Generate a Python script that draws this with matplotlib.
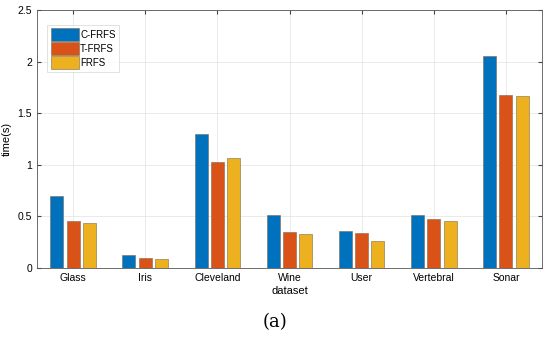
import numpy as np
import matplotlib
matplotlib.use("Agg")
import matplotlib.pyplot as plt

datasets = ["Glass", "Iris", "Cleveland", "Wine", "User", "Vertebral", "Sonar"]
c_frfs = [0.70, 0.13, 1.30, 0.51, 0.36, 0.51, 2.05]
t_frfs = [0.46, 0.10, 1.03, 0.35, 0.34, 0.47, 1.68]
frfs = [0.44, 0.09, 1.07, 0.33, 0.26, 0.46, 1.67]
series = [("C-FRFS", c_frfs, "#0072BD"), ("T-FRFS", t_frfs, "#D95319"), ("FRFS", frfs, "#EDB120")]

plt.rcParams['font.family'] = ['Liberation Sans', 'DejaVu Sans']
fig = plt.figure(figsize=(5.5, 3.48), dpi=100)
ax = fig.add_axes([37/550, 1 - 268/348, 505/550, 258/348])

x = np.arange(1, len(datasets) + 1)
w = 0.18
for i, (name, vals, col) in enumerate(series):
    ax.bar(x + (i - 1) * 0.226, vals, w, color=col, edgecolor="#7a6a50", linewidth=0.4, label=name, zorder=3)

ax.set_xlim(0.5, 7.5)
ax.set_ylim(0, 2.5)
ax.set_yticks([0, 0.5, 1, 1.5, 2, 2.5])
ax.set_yticklabels(["0", "0.5", "1", "1.5", "2", "2.5"])
ax.set_xticks(x)
ax.set_xticklabels(datasets)
ax.grid(True, color="#e6e6e6", linewidth=0.6, zorder=0)
ax.tick_params(direction="in", top=True, right=True, labelsize=7.5, length=3, color="#444444")
for s in ax.spines.values():
    s.set_color("#555555")
    s.set_linewidth(0.6)
ax.set_xlabel("dataset", fontsize=8, labelpad=2)
ax.set_ylabel("time(s)", fontsize=8, labelpad=4)

leg = ax.legend(loc="upper left", bbox_to_anchor=(0.02, 0.942), fontsize=7, handlelength=2.9, handleheight=1.6,
                fancybox=False, edgecolor="#cccccc", borderpad=0.35, labelspacing=0.15, handletextpad=0.15,
                borderaxespad=0)
leg.get_frame().set_linewidth(0.5)

fig.text(0.5, 1 - 322/348, "(a)", ha="center", va="center", fontsize=13, family="DejaVu Serif")

fig.savefig("out.png", dpi=100)
